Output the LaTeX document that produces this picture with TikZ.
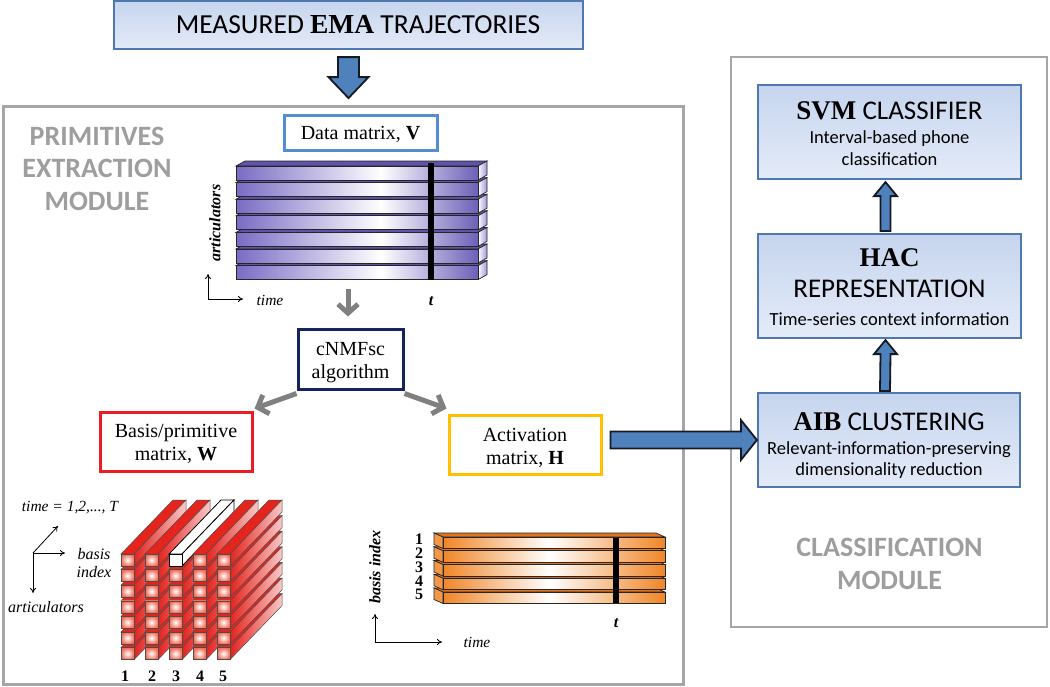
\documentclass[tikz,border=0pt]{standalone}
\usepackage{fontspec}
\setmainfont{Liberation Serif}
\newfontfamily\calib{Carlito}
\usetikzlibrary{arrows.meta,calc}
\definecolor{boxblue}{RGB}{79,120,176}
\definecolor{fillA}{RGB}{198,213,238}
\definecolor{fillB}{RGB}{228,235,248}
\definecolor{arrblue}{RGB}{79,129,189}
\definecolor{arrline}{RGB}{20,25,35}
\definecolor{framegray}{RGB}{166,166,166}
\definecolor{modgray}{RGB}{158,158,158}
\definecolor{datblue}{RGB}{84,141,212}
\definecolor{navy}{RGB}{20,36,92}
\definecolor{wred}{RGB}{237,28,36}
\definecolor{hyel}{RGB}{255,192,0}
\definecolor{pur}{RGB}{121,108,196}
\definecolor{purdk}{RGB}{108,96,184}
\definecolor{purtop}{RGB}{95,84,170}
\definecolor{orng}{RGB}{240,134,40}
\definecolor{orngtop}{RGB}{226,116,28}
\definecolor{cred}{RGB}{230,36,30}
\definecolor{salmon}{RGB}{240,112,92}
\definecolor{arrgray}{RGB}{128,128,128}
\pgfdeclarehorizontalshading{purbar}{100bp}{color(0bp)=(pur); color(25bp)=(pur); color(55bp)=(white); color(75bp)=(purdk); color(100bp)=(purdk)}
\pgfdeclarehorizontalshading{orbar}{100bp}{color(0bp)=(orng); color(25bp)=(orng); color(49bp)=(white); color(75bp)=(orng); color(100bp)=(orng)}
\newcommand\fs[2]{\fontsize{#1}{#2}\selectfont}
\begin{document}
\begin{tikzpicture}[x=1pt,y=-1pt,
  frame/.style={draw=framegray, line width=3pt, inner sep=0pt},
  bluebox/.style={draw=boxblue, line width=2.2pt, top color=fillA, bottom color=fillB, inner sep=0pt},
  labbox/.style={line width=3pt, fill=white, inner sep=0pt},
  modtext/.style={text=modgray, font=\calib\bfseries\fs{28}{32.5}, align=center},
  serif20/.style={font=\fs{20}{22.5}, align=center},
  blockarr/.style={fill=arrblue, draw=arrline, line width=1.8pt, line join=miter},
  grayarr/.style={draw=arrgray, line width=5pt, -{Straight Barb[length=9pt,width=20pt]}},
  axis/.style={line width=0.8pt, -{To[length=5pt,width=6pt]}},
  barline/.style={draw=black!85, line width=0.7pt},
  numlab/.style={anchor=base, inner sep=0pt, font=\bfseries\fs{16}{18}}]
\useasboundingbox (0,0) rectangle (1050,686);

% module frames
\node[frame, minimum width=680, minimum height=578] (prim) at (343,395) {};
\node[frame, line width=2.5pt, minimum width=316, minimum height=570] (cls) at (889,342) {};
\node[modtext] (primt) at (97,168.5) {PRIMITIVES\\EXTRACTION\\MODULE};
\node[modtext] (clst) at (889.5,564) {CLASSIFICATION\\MODULE};

% top box
\node[bluebox, minimum width=469, minimum height=48] (ema) at (348.5,25) {};
\node[anchor=base, font=\calib\fs{27.5}{30}] (emat) at (358,33) {MEASURED {\rmfamily\bfseries EMA} TRAJECTORIES};

% classification boxes
\node[bluebox, minimum width=263, minimum height=94] (svm) at (889.5,132) {};
\node[font=\calib\fs{18.5}{22}, align=center] (svmt) at (889.5,133.5) {{\fs{27}{30}\textrm{\bfseries SVM} CLASSIFIER}\\[2pt]Interval-based phone\\classification};
\node[bluebox, minimum width=263, minimum height=104] (hac) at (889.5,286) {};
\node[font=\calib\fs{18.5}{22}, align=center] (hact) at (889.5,287) {{\fs{27}{30}\textrm{\bfseries HAC}}\\[9pt]{\fs{27}{30}REPRESENTATION}\\[6pt]Time-series context information};
\node[bluebox, minimum width=262, minimum height=94] (aib) at (889,440) {};
\node[font=\calib\fs{18.5}{20.5}, align=center] (aibt) at (889,445.5) {{\fs{27}{30}\textrm{\bfseries AIB} CLUSTERING}\\[3.5pt]Relevant-information-preserving\\dimensionality reduction};

% label boxes
\node[labbox, draw=datblue, minimum width=153, minimum height=35] (vbox) at (360.5,132.5) {};
\node[anchor=base, font=\fs{20}{22}] (vboxt) at (360.5,139.5) {Data matrix, \textbf{V}};
\node[labbox, draw=navy, minimum width=105, minimum height=60] (cnmf) at (350.5,359) {};
\node[serif20] (cnmft) at (350.5,362.5) {cNMFsc\\algorithm};
\node[labbox, draw=wred, minimum width=152, minimum height=59] (basis) at (176,441.5) {};
\node[font=\fs{20}{23}, align=center] (basist) at (176,443.5) {Basis/primitive\\matrix, \textbf{W}};
\node[labbox, draw=hyel, minimum width=152, minimum height=59] (act) at (525,444.5) {};
\node[font=\fs{20}{23}, align=center] (actt) at (525,447.5) {Activation\\matrix, \textbf{H}};

% data matrix V (purple bars)
\foreach \r in {6,5,...,0}{
  \pgfmathsetmacro\yy{166+16.6*\r}
  \filldraw[fill=purtop, barline] (236,\yy) -- ++(9,-5) -- ++(242,0) -- ++(-9,5) -- cycle;
  \shadedraw[left color=white, right color=pur!70, barline] (478,\yy) -- ++(9,-5) -- ++(0,14) -- ++(-9,5) -- cycle;
  \shadedraw[shading=purbar, barline] (236,\yy) rectangle ++(242,14);
}
\fill[black] (428,163) rectangle (434,280);
\node[rotate=90, font=\bfseries\itshape\fs{16}{18}] (artv) at (215,223) {articulators};
\coordinate (o1) at (208,299);
\coordinate (o1u) at (208,274);
\coordinate (o1r) at (243,299);
\draw[axis] (o1) -- (o1u);
\draw[axis] (o1) -- (o1r);
\node[anchor=base, font=\itshape\fs{15.5}{17}] (timev) at (270,305) {time};
\node[anchor=base, font=\bfseries\itshape\fs{16}{18}] (tv) at (431,305) {t};
\coordinate (vbot) at (348,289);

% basis cube W (red bars)
\foreach \r in {6,5,...,0}{
 \foreach \c in {0,...,4}{
  \pgfmathsetmacro\bx{121+24*\c}
  \pgfmathsetmacro\by{554+15.6*\r}
  \pgfmathtruncatemacro\wh{(\r==0)&&(\c==2)}
  \ifnum\wh=1
   \filldraw[fill=white, draw=black, line width=0.8pt] (\bx,\by) -- ++(52,-54) -- ++(13,0) -- ++(-52,54) -- cycle;
   \filldraw[fill=white, draw=black, line width=0.8pt] (\bx+13,\by) -- ++(52,-54) -- ++(0,12) -- ++(-52,54) -- cycle;
   \filldraw[fill=white, draw=black, line width=0.8pt] (\bx,\by) rectangle ++(13,12);
  \else
   \filldraw[fill=cred, draw=black!70, line width=0.5pt] (\bx,\by) -- ++(52,-54) -- ++(13,0) -- ++(-52,54) -- cycle;
   \shadedraw[left color=cred, right color=cred!25!white, draw=black!70, line width=0.5pt] (\bx+13,\by) -- ++(52,-54) -- ++(0,12) -- ++(-52,54) -- cycle;
   \shadedraw[inner color=white, outer color=salmon, draw=black!70, line width=0.5pt] (\bx,\by) rectangle ++(13,12);
  \fi
 }}
\foreach \i/\xx in {1/125,2/152,3/176,4/200,5/223}
  \node[numlab] (bn\i) at (\xx,681) {\i};
\node[anchor=base, font=\itshape\fs{15.5}{17}] (timet) at (70,511) {time = 1,2,..., T};
\node[font=\itshape\fs{16}{18}, align=center] (bidx) at (94,563.5) {basis\\index};
\node[anchor=base, font=\itshape\fs{16}{18}] (artw) at (46,612) {articulators};
\coordinate (o2) at (33,553);
\coordinate (o2d) at (58,526);
\coordinate (o2r) at (65,553);
\coordinate (o2b) at (33,593);
\draw[axis] (o2) -- (o2d);
\draw[axis] (o2) -- (o2r);
\draw[axis] (o2) -- (o2b);

% activation matrix H (orange bars)
\foreach \r in {4,3,...,0}{
  \pgfmathsetmacro\yy{537+13.75*\r}
  \filldraw[fill=orngtop, barline] (443,\yy) -- ++(-9,-4) -- ++(222,0) -- ++(9,4) -- cycle;
  \filldraw[fill=orng!85!white, barline] (443,\yy) -- ++(-9,-4) -- ++(0,11.5) -- ++(9,4) -- cycle;
  \shadedraw[shading=orbar, barline] (443,\yy) rectangle ++(222,11.5);
}
\fill[black] (613,538) rectangle (619,603);
\node[inner sep=0pt, align=center, font=\bfseries\fs{16}{13.75}] (onums) at (419,567.1) {1\\2\\3\\4\\5};
\node[rotate=90, font=\bfseries\itshape\fs{16}{18}] (bidxh) at (375,567) {basis index};
\coordinate (o3) at (375,642);
\coordinate (o3u) at (375,614);
\coordinate (o3r) at (442,642);
\draw[axis] (o3) -- (o3u);
\draw[axis] (o3) -- (o3r);
\node[anchor=base, font=\itshape\fs{15.5}{17}] (timeh) at (477,647) {time};
\node[anchor=base, font=\bfseries\itshape\fs{16}{18}] (th) at (616,627) {t};

% gray arrows
\draw[grayarr] (vbot) -- ($(vbot |- cnmf.north)+(0,-11)$);
\draw[grayarr] ($(cnmf.south west)+(0,3)$) -- ($(basis.north east)+(1,-2)$);
\draw[grayarr] ($(cnmf.south east)+(0,3)$) -- ($(act.north west)+(-1,-5)$);

% block arrows
\coordinate (ta) at ($(ema.south)+(0,7)$);
\coordinate (tb) at ($(ema.south)+(0,48)$);
\draw[blockarr] ($(ta)+(-10.5,0)$) -- ($(tb)+(-10.5,-21)$) -- ($(tb)+(-20,-21)$) -- (tb) -- ($(tb)+(20,-21)$) -- ($(tb)+(10.5,-21)$) -- ($(ta)+(10.5,0)$) -- cycle;

\coordinate (ra) at ($(act.east)+(8,-4.5)$);
\coordinate (rb) at (aib.west);
\draw[blockarr] ($(ra)+(0,-8.5)$) -- ($(rb)+(-16,-8.5)$) -- ($(rb)+(-16,-20)$) -- (rb) -- ($(rb)+(-16,20)$) -- ($(rb)+(-16,8.5)$) -- ($(ra)+(0,8.5)$) -- cycle;

\coordinate (u1t) at ($(svm.south)+(-4,2)$);
\coordinate (u1b) at ($(hac.north)+(-4,-2)$);
\draw[blockarr] ($(u1b)+(-5,0)$) -- ($(u1t)+(-5,14)$) -- ($(u1t)+(-11.5,14)$) -- (u1t) -- ($(u1t)+(11.5,14)$) -- ($(u1t)+(5,14)$) -- ($(u1b)+(5,0)$) -- cycle;
\coordinate (u2t) at ($(hac.south)+(-4,1)$);
\coordinate (u2b) at ($(aib.north)+(-4,-1)$);
\draw[blockarr] ($(u2b)+(-5,0)$) -- ($(u2t)+(-5,14)$) -- ($(u2t)+(-11.5,14)$) -- (u2t) -- ($(u2t)+(11.5,14)$) -- ($(u2t)+(5,14)$) -- ($(u2b)+(5,0)$) -- cycle;
\end{tikzpicture}
\end{document}
